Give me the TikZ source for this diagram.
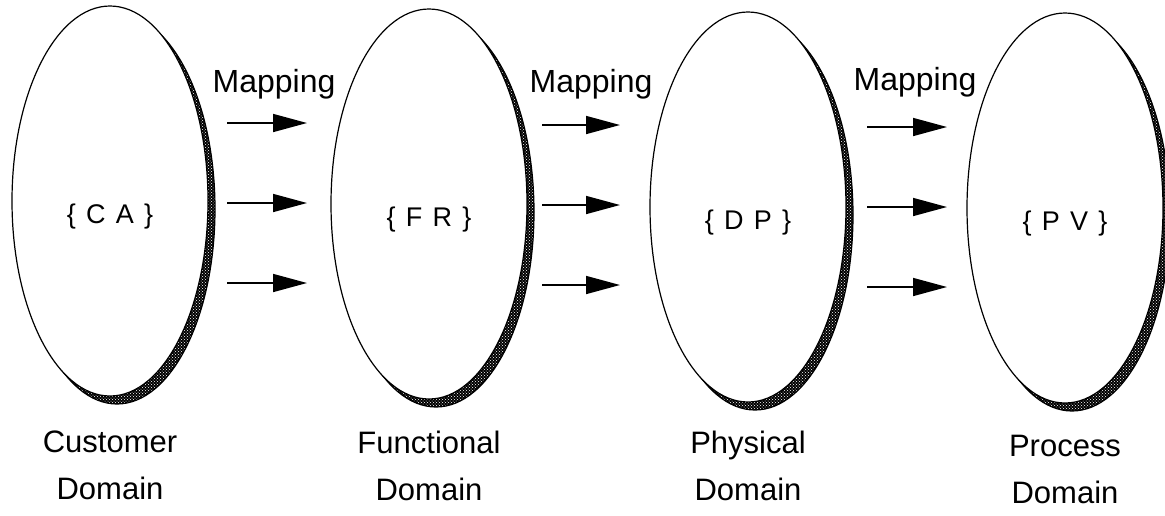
\documentclass[tikz,border=0pt]{standalone}
\usepackage{fontspec}
\setmainfont{Liberation Sans}
\usetikzlibrary{shapes.geometric,arrows.meta,patterns,backgrounds}

\begin{document}
\begin{tikzpicture}[x=1pt,y=-1pt,
  domainnode/.style={ellipse,draw=black,fill=white,line width=1.2pt,inner sep=0pt,
    minimum width=196pt,minimum height=390pt,text height=44pt,text depth=0pt,
    font=\fontsize{27}{30}\selectfont},
  shadowfill/.style={draw=black,line width=1.2pt,preaction={fill=black},
    pattern=crosshatch dots,pattern color=white},
  mapto/.style={line width=1.6pt,-{Triangle[length=34pt,width=18pt]}},
  maplabel/.style={anchor=base,inner sep=0pt,font=\fontsize{32}{38}\selectfont},
  domlabel/.style={anchor=north,align=center,inner sep=0pt,font=\fontsize{31}{47}\selectfont}]
\useasboundingbox (0,0) rectangle (1165,515);

% the four domains
\node[domainnode] (CA) at (110,201) {\{\hspace{.38em}C\hspace{.38em}A\hspace{.38em}\}};
\node[domainnode] (FR) at (429,204) {\{\hspace{.38em}F\hspace{.38em}R\hspace{.38em}\}};
\node[domainnode] (DP) at (748,207) {\{\hspace{.38em}D\hspace{.38em}P\hspace{.38em}\}};
\node[domainnode] (PV) at (1065,208) {\{\hspace{.38em}P\hspace{.38em}V\hspace{.38em}\}};

% shadows behind them
\begin{scope}[on background layer]
\foreach \d in {CA,FR,DP,PV}
  \draw[shadowfill] ([shift={(7,8)}]\d.center) ellipse [x radius=98pt,y radius=195pt];
\end{scope}

% mapping arrows
\foreach \n/\y in {1/123,2/203,3/283} {
  \coordinate (s1\n) at (227,\y);
  \coordinate (e1\n) at (307,\y);
  \draw[mapto] (s1\n) -- (e1\n);
}
\foreach \n/\y in {1/125,2/205,3/285} {
  \coordinate (s2\n) at (542,\y);
  \coordinate (e2\n) at (620,\y);
  \draw[mapto] (s2\n) -- (e2\n);
}
\foreach \n/\y in {1/127,2/207,3/287} {
  \coordinate (s3\n) at (867,\y);
  \coordinate (e3\n) at (947,\y);
  \draw[mapto] (s3\n) -- (e3\n);
}

\node[maplabel] (m1) at (274,92) {Mapping};
\node[maplabel] (m2) at (591,92) {Mapping};
\node[maplabel] (m3) at (915,90) {Mapping};

% domain names
\node[domlabel] (cdom) at (110,431) {Customer\\Domain};
\node[domlabel] (fdom) at (429,431) {Functional\\Domain};
\node[domlabel] (pdom) at (748,431) {Physical\\Domain};
\node[domlabel] (rdom) at (1065,435) {Process\\Domain};
\end{tikzpicture}
\end{document}
